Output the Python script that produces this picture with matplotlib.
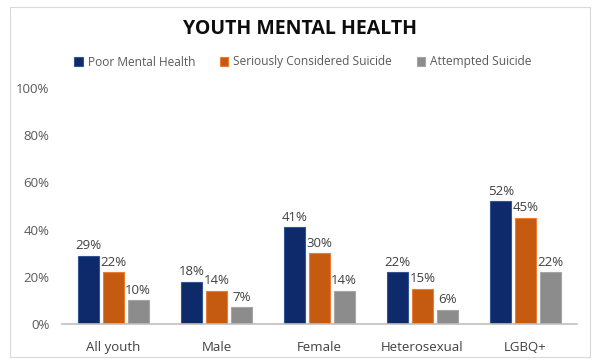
import matplotlib
matplotlib.use("Agg")
import matplotlib.pyplot as plt
import numpy as np
from matplotlib.patches import Rectangle

categories = ["All youth", "Male", "Female", "Heterosexual", "LGBQ+"]
series_names = ["Poor Mental Health", "Seriously Considered Suicide", "Attempted Suicide"]
poor = [29, 18, 41, 22, 52]
considered = [22, 14, 30, 15, 45]
attempted = [10, 7, 14, 6, 22]
yticks = [0, 20, 40, 60, 80, 100]

colors = ["#0E2A6B", "#C55A11", "#8C8C8C"]
edges = ["#2F5597", "#ED7D31", "#A5A5A5"]

plt.rcParams['font.family'] = ['Open Sans', 'DejaVu Sans']
fig = plt.figure(figsize=(6, 3.64), dpi=100)
fig.patches.append(Rectangle((10/600, 7/364), 580/600, 350/364, transform=fig.transFigure,
                             fill=False, edgecolor="#D9D9D9", linewidth=0.8))
ax = fig.add_axes([62/600, 40/364, 515/600, 236/364])

x = np.arange(len(categories))
w = 0.2
offsets = [-0.24, 0, 0.24]
for vals, name, c, e, off in zip([poor, considered, attempted], series_names, colors, edges, offsets):
    bars = ax.bar(x + off, vals, w, color=c, edgecolor=e, linewidth=0.8, label=name)
    for b, v in zip(bars, vals):
        ax.text(b.get_x() + b.get_width()/2, v + 1.5, f"{v}%", ha="center", va="bottom",
                fontsize=9.5, color="#404040")

ax.set_xlim(-0.5, len(categories) - 0.5)
ax.set_ylim(0, 100)
ax.set_yticks(yticks)
ax.set_yticklabels([f"{t}%" for t in yticks], fontsize=9.5, color="#595959")
ax.set_xticks(x)
ax.set_xticklabels(categories, fontsize=9.5, color="#404040")
ax.tick_params(length=0)
ax.tick_params(axis='x', pad=12)
ax.tick_params(axis='y', pad=9)
for s in ["top", "right", "left"]:
    ax.spines[s].set_visible(False)
ax.spines["bottom"].set_color("#BFBFBF")
ax.spines["bottom"].set_linewidth(1.2)

title = "YOUTH MENTAL HEALTH"
fig.text(0.5, 335/364, title, ha="center", va="center", fontsize=14,
         fontweight="bold", color="#0D0D0D")
leg = fig.legend(loc="center", bbox_to_anchor=(0.505, 302/364), ncol=3, frameon=False,
                 fontsize=8.6, handlelength=0.7, handleheight=0.7, columnspacing=2.1,
                 handletextpad=0.4)
for t in leg.get_texts():
    t.set_color("#595959")

fig.savefig("out.png", dpi=100)
